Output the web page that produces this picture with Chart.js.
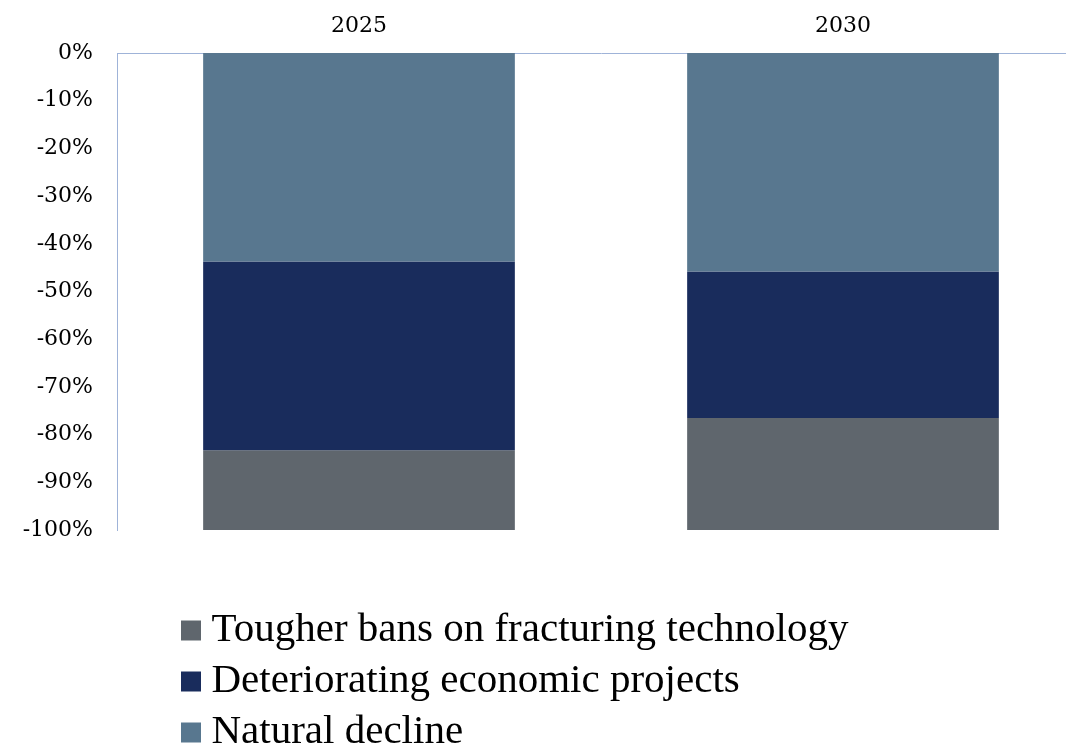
<!DOCTYPE html>
<html>
<head>
<meta charset="utf-8">
<script src="https://cdn.jsdelivr.net/npm/chart.js@4/dist/chart.umd.min.js"></script>
<style>
  html, body { margin: 0; padding: 0; background: #fff; overflow: hidden; }
  #wrap { width: 1090px; height: 746px; }
</style>
</head>
<body>
<div id="wrap"><canvas id="c" width="1090" height="746"></canvas></div>
<script>
const categories = ['2025', '2030'];
const naturalDecline = [-43.7, -45.8];
const deterioratingProjects = [-39.6, -30.7];
const tougherBans = [-16.7, -23.5];
const yTicks = [0, -10, -20, -30, -40, -50, -60, -70, -80, -90, -100];

const seriesNames = ['Natural decline', 'Deteriorating economic projects', 'Tougher bans on fracturing technology'];
const seriesColors = ['#58778F', '#192C5C', '#5F666D'];

const legendPos = {
  id: 'legendPos',
  afterLayout(chart) {
    const lg = chart.legend;
    if (!lg) return;
    lg.left = 181;
    lg.right = 1090;
    lg.top = 600;
    lg.bottom = 1200;
  }
};

new Chart(document.getElementById('c'), {
  type: 'bar',
  data: {
    labels: categories,
    datasets: [
      { label: seriesNames[0], data: naturalDecline, backgroundColor: seriesColors[0] },
      { label: seriesNames[1], data: deterioratingProjects, backgroundColor: seriesColors[1] },
      { label: seriesNames[2], data: tougherBans, backgroundColor: seriesColors[2] }
    ]
  },
  options: {
    responsive: false,
    animation: false,
    devicePixelRatio: 1,
    layout: { padding: { left: 0, right: 5, top: 0, bottom: 216 } },
    datasets: { bar: { barPercentage: 0.644, categoryPercentage: 1, borderWidth: 0 } },
    scales: {
      x: {
        type: 'category',
        position: 'top',
        stacked: true,
        grid: { display: false, drawTicks: false },
        border: { display: true, color: '#9FB3D8', width: 1 },
        ticks: { color: '#000', padding: 14, font: { family: 'DejaVu Serif', size: 22 } },
        afterFit(s) { s.height = 53; }
      },
      y: {
        stacked: true,
        min: -100,
        max: 0,
        afterBuildTicks(s) { s.ticks = yTicks.map(v => ({ value: v })); },
        grid: { display: false, drawTicks: false },
        border: { display: true, color: '#9FB3D8', width: 1 },
        ticks: {
          color: '#000', padding: 24,
          font: { family: 'DejaVu Serif', size: 22 },
          callback: v => v + '%'
        },
        afterFit(s) { s.width = 116; }
      }
    },
    plugins: {
      tooltip: { enabled: false },
      legend: {
        position: 'left',
        align: 'start',
        maxWidth: 1,
        reverse: true,
        labels: {
          usePointStyle: true,
          pointStyle: 'rect',
          boxWidth: 0.01,
          boxHeight: 20,
          padding: 10,
          color: '#000',
          font: { family: 'Liberation Serif', size: 41 }
        }
      }
    }
  },
  plugins: [legendPos]
});
</script>
</body>
</html>
